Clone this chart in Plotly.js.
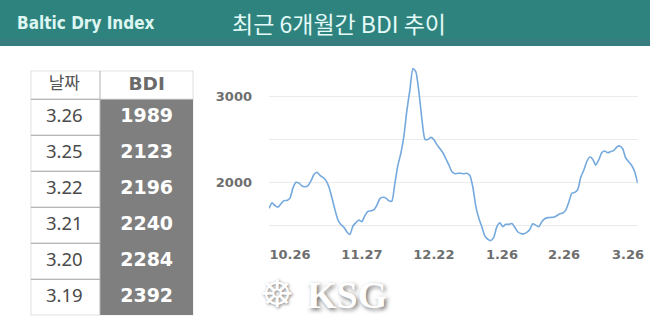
<!DOCTYPE html>
<html>
<head>
<meta charset="utf-8">
<script src="https://cdn.plot.ly/plotly-3.0.1.min.js"></script>
<style>
  html, body { margin: 0; padding: 0; background: #ffffff; }
  #chart { width: 650px; height: 330px; }
</style>
</head>
<body>
<div id="chart"></div>
<script>
// ---- Data ----
// BDI daily values over the last ~6 months (one value per trading day, oldest first)
const bdiSeries = [
  1696, 1760, 1728, 1710, 1750, 1786, 1789, 1815, 1935, 2000,
  1990, 1957, 1949, 1962, 2016, 2090, 2117, 2082, 2058, 2023,
  1945, 1820, 1680, 1560, 1508, 1475, 1420, 1390, 1490, 1530,
  1560, 1540, 1612, 1660, 1666, 1680, 1735, 1810, 1826, 1815,
  1785, 1780, 1990, 2200, 2340, 2540, 2840, 3080, 3330, 3290,
  3060, 2740, 2505, 2500, 2525, 2500, 2440, 2395, 2345, 2275,
  2203, 2125, 2101, 2105, 2105, 2100, 2105, 2080, 1945, 1720,
  1580, 1480, 1375, 1335, 1320, 1360, 1480, 1528, 1483, 1510,
  1509, 1518, 1475, 1420, 1403, 1398, 1415, 1450, 1515, 1500,
  1482, 1540, 1575, 1588, 1590, 1592, 1610, 1633, 1642, 1675,
  1765, 1872, 1883, 1915, 2060, 2140, 2240, 2295, 2270, 2200,
  2261, 2345, 2365, 2345, 2360, 2370, 2410, 2425, 2392, 2284,
  2240, 2196, 2123, 1989
];
// x-axis tick labels and the trading-day index they sit at
const xTickLabels = ["10.26", "11.27", "12.22", "1.26", "2.26", "3.26"];
const xTickIndex  = [7, 31, 55, 77.7, 98.4, 119.8];
// y-axis ticks
const yTickValues = [1500, 2000, 2500, 3000];
const yTickLabels = ["", "2000", "", "3000"];

// Table on the left
const tableHeader = ["날짜", "BDI"];
const tableDates  = ["3.26", "3.25", "3.22", "3.21", "3.20", "3.19"];
const tableBDI    = [1989, 2123, 2196, 2240, 2284, 2392];

// ---- Build ----
const W = 650, H = 330;
const px = x => x / W;
const py = y => 1 - y / H;

// table geometry in its own axis units (pixels across, rows down)
const colW = [69.3, 93.3];
const tblW = colW[0] + colW[1];
const hdrRows = 28.6 / 36;
const nRows = tableDates.length;
const colMid = [colW[0] / 2 - 1, colW[0] + colW[1] / 2];
const rowMid = tableDates.map((_, i) => i + 0.5);

const idx = bdiSeries.map((_, i) => i);

const lineTrace = {
  type: 'scatter', mode: 'lines',
  x: idx, y: bdiSeries,
  line: { color: '#74A9DE', width: 1.6, shape: 'spline', smoothing: 0.5 },
  hoverinfo: 'skip', xaxis: 'x', yaxis: 'y'
};

const dateText = {
  type: 'scatter', mode: 'text', xaxis: 'x2', yaxis: 'y2',
  x: tableDates.map(() => colMid[0]), y: rowMid, text: tableDates,
  textposition: 'middle center', hoverinfo: 'skip',
  textfont: { family: 'Noto Sans, sans-serif', size: 18.5, color: '#4A4A4A' }
};
const bdiText = {
  type: 'scatter', mode: 'text', xaxis: 'x2', yaxis: 'y2',
  x: tableBDI.map(() => colMid[1]), y: rowMid, text: tableBDI.map(String),
  textposition: 'middle center', hoverinfo: 'skip',
  textfont: { family: 'DejaVu Sans, sans-serif', size: 19, color: '#FFFFFF', weight: 'bold' }
};
const headerText = {
  type: 'scatter', mode: 'text', xaxis: 'x2', yaxis: 'y2',
  x: colMid, y: [-hdrRows / 2, -hdrRows / 2], text: tableHeader,
  textposition: 'middle center', hoverinfo: 'skip',
  textfont: { family: ['Noto Sans CJK KR, sans-serif', 'DejaVu Sans, sans-serif'],
              size: [17, 18.5], color: ['#555555', '#6A6A6A'], weight: ['normal', 'bold'] }
};

const gridCol = '#B4B4B4';
const tableShapes = [
  { type: 'rect', xref: 'x2', yref: 'y2', x0: colW[0], x1: tblW, y0: 0, y1: nRows,
    fillcolor: '#7F7F7F', line: { width: 0 }, layer: 'below' },
  { type: 'rect', xref: 'x2', yref: 'y2', x0: 0, x1: tblW, y0: -hdrRows, y1: 0,
    fillcolor: 'rgba(0,0,0,0)', line: { color: gridCol, width: 1 } },
  { type: 'line', xref: 'x2', yref: 'y2', x0: colW[0], x1: colW[0], y0: -hdrRows, y1: 0,
    line: { color: gridCol, width: 1 } }
].concat(tableDates.map((_, i) => ({
  type: 'rect', xref: 'x2', yref: 'y2', x0: 0, x1: colW[0], y0: i, y1: i + 1,
  fillcolor: 'rgba(0,0,0,0)', line: { color: gridCol, width: 1 }
})));

const tickFont = { family: 'DejaVu Sans, sans-serif', size: 13, color: '#6E6E6E', weight: 'bold' };

const layout = {
  width: W, height: H,
  margin: { l: 0, r: 0, t: 0, b: 0 },
  paper_bgcolor: '#FFFFFF',
  plot_bgcolor: 'rgba(0,0,0,0)',
  showlegend: false,
  xaxis: {
    domain: [px(269), px(637.7)],
    range: [0, bdiSeries.length - 1],
    tickvals: xTickIndex, ticktext: xTickLabels,
    showgrid: false, zeroline: false, showline: false, ticks: '',
    tickfont: tickFont, fixedrange: true
  },
  yaxis: {
    domain: [py(245), py(62)],
    range: [1268, 3405],
    tickvals: yTickValues, ticktext: yTickLabels,
    showgrid: true, gridcolor: '#EBEBEB', gridwidth: 1,
    zeroline: false, showline: false, ticks: '',
    ticklabelstandoff: 16,
    tickfont: tickFont, fixedrange: true
  },
  xaxis2: {
    domain: [px(30.7), px(193.3)], range: [0, tblW], anchor: 'y2',
    visible: false, fixedrange: true
  },
  yaxis2: {
    domain: [py(315.3), py(70.7)], range: [nRows, -hdrRows], anchor: 'x2',
    visible: false, fixedrange: true
  },
  shapes: [
    { type: 'rect', xref: 'paper', yref: 'paper', x0: 0, x1: 1, y0: py(46), y1: 1,
      fillcolor: '#2F837E', line: { width: 0 }, layer: 'below' },
    { type: 'rect', xref: 'paper', yref: 'paper', x0: 0, x1: 1, y0: py(46), y1: py(39),
      fillcolor: '#3F7880', line: { width: 0 }, layer: 'below', opacity: 0.5 }
  ].concat(tableShapes),
  annotations: [
    { xref: 'paper', yref: 'paper', x: px(15), y: py(23.5), xanchor: 'left', yanchor: 'middle',
      text: '<b>Baltic Dry Index</b>', showarrow: false,
      font: { family: 'Liberation Sans Narrow, DejaVu Sans Condensed, sans-serif', size: 17, color: '#DDF6F2' } },
    { xref: 'paper', yref: 'paper', x: px(339), y: py(23), xanchor: 'center', yanchor: 'middle',
      text: '최근 6개월간 BDI 추이', showarrow: false,
      font: { family: 'Noto Sans CJK KR, sans-serif', size: 23, color: '#E4FAF8' } },
    { xref: 'paper', yref: 'paper', x: px(277), y: py(294), xanchor: 'center', yanchor: 'middle',
      text: '☸', showarrow: false,
      font: { family: 'DejaVu Sans, sans-serif', size: 38, color: '#FFFFFF', shadow: '1px 1px 3px #808080' } },
    { xref: 'paper', yref: 'paper', x: px(347), y: py(295), xanchor: 'center', yanchor: 'middle',
      text: '<b>KSG</b>', showarrow: false,
      font: { family: 'Liberation Serif, serif', size: 38, color: '#FFFFFF', shadow: '2px 2px 4px #707070' } }
  ]
};

Plotly.newPlot('chart', [lineTrace, dateText, bdiText, headerText], layout,
  { displayModeBar: false, staticPlot: true });
</script>
</body>
</html>
